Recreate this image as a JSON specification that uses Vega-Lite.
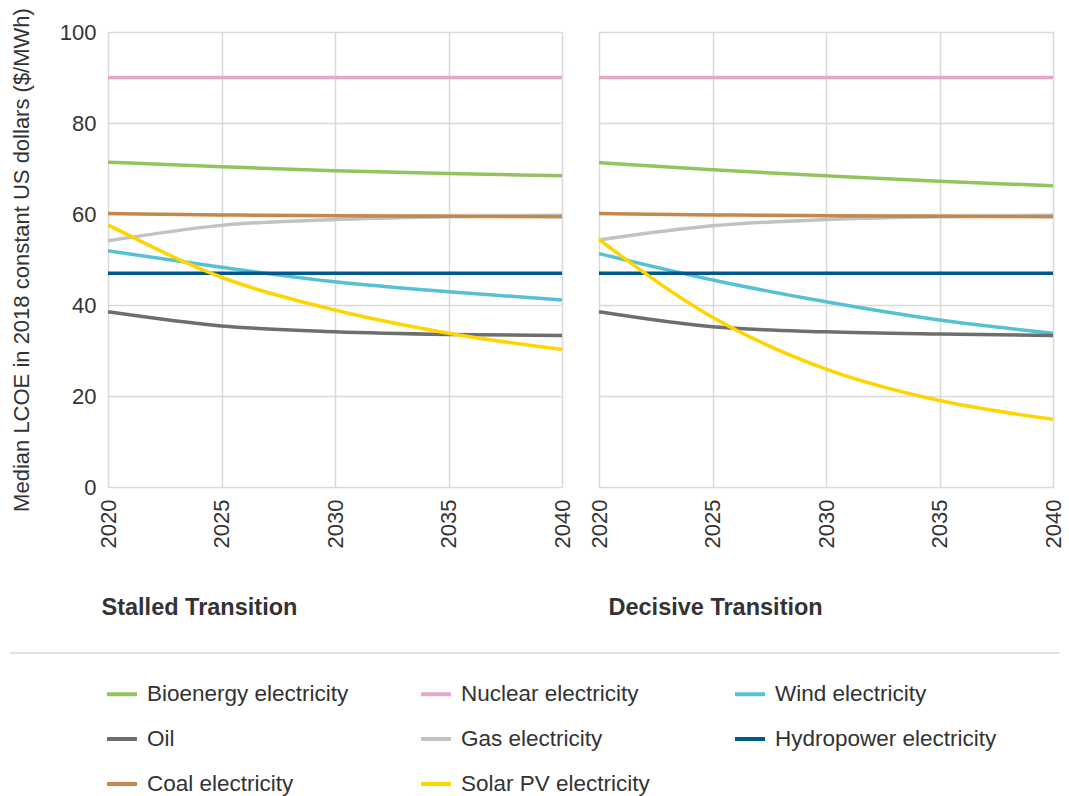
{
  "$schema": "https://vega.github.io/schema/vega-lite/v6.json",
  "background": "white",
  "padding": {"left": 7, "top": 7, "right": 10, "bottom": 5},
  "config": {
    "font": "Liberation Sans",
    "view": {"stroke": null},
    "axis": {
      "gridColor": "#d9d9d9",
      "gridWidth": 1.5,
      "domain": false,
      "ticks": false,
      "labelColor": "#333333",
      "labelFontSize": 22,
      "titleColor": "#333333",
      "titleFontSize": 22,
      "titleFontWeight": "normal"
    },
    "legend": {
      "padding": 0,
      "labelFont": "Liberation Sans",
      "labelFontSize": 22.5,
      "labelColor": "#333333"
    }
  },
  "datasets": {
    "lcoe": [
      {"scenario": "Stalled Transition", "source": "Bioenergy electricity", "year": 2020, "value": 71.4},
      {"scenario": "Stalled Transition", "source": "Bioenergy electricity", "year": 2025, "value": 70.4},
      {"scenario": "Stalled Transition", "source": "Bioenergy electricity", "year": 2030, "value": 69.5},
      {"scenario": "Stalled Transition", "source": "Bioenergy electricity", "year": 2035, "value": 68.9},
      {"scenario": "Stalled Transition", "source": "Bioenergy electricity", "year": 2040, "value": 68.4},
      {"scenario": "Stalled Transition", "source": "Nuclear electricity", "year": 2020, "value": 90},
      {"scenario": "Stalled Transition", "source": "Nuclear electricity", "year": 2025, "value": 90},
      {"scenario": "Stalled Transition", "source": "Nuclear electricity", "year": 2030, "value": 90},
      {"scenario": "Stalled Transition", "source": "Nuclear electricity", "year": 2035, "value": 90},
      {"scenario": "Stalled Transition", "source": "Nuclear electricity", "year": 2040, "value": 90},
      {"scenario": "Stalled Transition", "source": "Wind electricity", "year": 2020, "value": 51.9},
      {"scenario": "Stalled Transition", "source": "Wind electricity", "year": 2025, "value": 48.3},
      {"scenario": "Stalled Transition", "source": "Wind electricity", "year": 2030, "value": 45.1},
      {"scenario": "Stalled Transition", "source": "Wind electricity", "year": 2035, "value": 42.9},
      {"scenario": "Stalled Transition", "source": "Wind electricity", "year": 2040, "value": 41.1},
      {"scenario": "Stalled Transition", "source": "Oil", "year": 2020, "value": 38.5},
      {"scenario": "Stalled Transition", "source": "Oil", "year": 2025, "value": 35.4},
      {"scenario": "Stalled Transition", "source": "Oil", "year": 2030, "value": 34.1},
      {"scenario": "Stalled Transition", "source": "Oil", "year": 2035, "value": 33.5},
      {"scenario": "Stalled Transition", "source": "Oil", "year": 2040, "value": 33.3},
      {"scenario": "Stalled Transition", "source": "Gas electricity", "year": 2020, "value": 54.1},
      {"scenario": "Stalled Transition", "source": "Gas electricity", "year": 2025, "value": 57.5},
      {"scenario": "Stalled Transition", "source": "Gas electricity", "year": 2030, "value": 58.8},
      {"scenario": "Stalled Transition", "source": "Gas electricity", "year": 2035, "value": 59.4},
      {"scenario": "Stalled Transition", "source": "Gas electricity", "year": 2040, "value": 59.7},
      {"scenario": "Stalled Transition", "source": "Hydropower electricity", "year": 2020, "value": 47},
      {"scenario": "Stalled Transition", "source": "Hydropower electricity", "year": 2025, "value": 47},
      {"scenario": "Stalled Transition", "source": "Hydropower electricity", "year": 2030, "value": 47},
      {"scenario": "Stalled Transition", "source": "Hydropower electricity", "year": 2035, "value": 47},
      {"scenario": "Stalled Transition", "source": "Hydropower electricity", "year": 2040, "value": 47},
      {"scenario": "Stalled Transition", "source": "Coal electricity", "year": 2020, "value": 60.1},
      {"scenario": "Stalled Transition", "source": "Coal electricity", "year": 2025, "value": 59.8},
      {"scenario": "Stalled Transition", "source": "Coal electricity", "year": 2030, "value": 59.6},
      {"scenario": "Stalled Transition", "source": "Coal electricity", "year": 2035, "value": 59.5},
      {"scenario": "Stalled Transition", "source": "Coal electricity", "year": 2040, "value": 59.4},
      {"scenario": "Stalled Transition", "source": "Solar PV electricity", "year": 2020, "value": 57.6},
      {"scenario": "Stalled Transition", "source": "Solar PV electricity", "year": 2025, "value": 46.1},
      {"scenario": "Stalled Transition", "source": "Solar PV electricity", "year": 2030, "value": 38.9},
      {"scenario": "Stalled Transition", "source": "Solar PV electricity", "year": 2035, "value": 33.8},
      {"scenario": "Stalled Transition", "source": "Solar PV electricity", "year": 2040, "value": 30.2},
      {"scenario": "Decisive Transition", "source": "Bioenergy electricity", "year": 2020, "value": 71.3},
      {"scenario": "Decisive Transition", "source": "Bioenergy electricity", "year": 2025, "value": 69.7},
      {"scenario": "Decisive Transition", "source": "Bioenergy electricity", "year": 2030, "value": 68.4},
      {"scenario": "Decisive Transition", "source": "Bioenergy electricity", "year": 2035, "value": 67.2},
      {"scenario": "Decisive Transition", "source": "Bioenergy electricity", "year": 2040, "value": 66.2},
      {"scenario": "Decisive Transition", "source": "Nuclear electricity", "year": 2020, "value": 90},
      {"scenario": "Decisive Transition", "source": "Nuclear electricity", "year": 2025, "value": 90},
      {"scenario": "Decisive Transition", "source": "Nuclear electricity", "year": 2030, "value": 90},
      {"scenario": "Decisive Transition", "source": "Nuclear electricity", "year": 2035, "value": 90},
      {"scenario": "Decisive Transition", "source": "Nuclear electricity", "year": 2040, "value": 90},
      {"scenario": "Decisive Transition", "source": "Wind electricity", "year": 2020, "value": 51.3},
      {"scenario": "Decisive Transition", "source": "Wind electricity", "year": 2025, "value": 45.5},
      {"scenario": "Decisive Transition", "source": "Wind electricity", "year": 2030, "value": 40.7},
      {"scenario": "Decisive Transition", "source": "Wind electricity", "year": 2035, "value": 36.7},
      {"scenario": "Decisive Transition", "source": "Wind electricity", "year": 2040, "value": 33.8},
      {"scenario": "Decisive Transition", "source": "Oil", "year": 2020, "value": 38.5},
      {"scenario": "Decisive Transition", "source": "Oil", "year": 2025, "value": 35.2},
      {"scenario": "Decisive Transition", "source": "Oil", "year": 2030, "value": 34.1},
      {"scenario": "Decisive Transition", "source": "Oil", "year": 2035, "value": 33.6},
      {"scenario": "Decisive Transition", "source": "Oil", "year": 2040, "value": 33.3},
      {"scenario": "Decisive Transition", "source": "Gas electricity", "year": 2020, "value": 54.3},
      {"scenario": "Decisive Transition", "source": "Gas electricity", "year": 2025, "value": 57.4},
      {"scenario": "Decisive Transition", "source": "Gas electricity", "year": 2030, "value": 58.8},
      {"scenario": "Decisive Transition", "source": "Gas electricity", "year": 2035, "value": 59.4},
      {"scenario": "Decisive Transition", "source": "Gas electricity", "year": 2040, "value": 59.7},
      {"scenario": "Decisive Transition", "source": "Hydropower electricity", "year": 2020, "value": 47},
      {"scenario": "Decisive Transition", "source": "Hydropower electricity", "year": 2025, "value": 47},
      {"scenario": "Decisive Transition", "source": "Hydropower electricity", "year": 2030, "value": 47},
      {"scenario": "Decisive Transition", "source": "Hydropower electricity", "year": 2035, "value": 47},
      {"scenario": "Decisive Transition", "source": "Hydropower electricity", "year": 2040, "value": 47},
      {"scenario": "Decisive Transition", "source": "Coal electricity", "year": 2020, "value": 60.1},
      {"scenario": "Decisive Transition", "source": "Coal electricity", "year": 2025, "value": 59.8},
      {"scenario": "Decisive Transition", "source": "Coal electricity", "year": 2030, "value": 59.6},
      {"scenario": "Decisive Transition", "source": "Coal electricity", "year": 2035, "value": 59.5},
      {"scenario": "Decisive Transition", "source": "Coal electricity", "year": 2040, "value": 59.4},
      {"scenario": "Decisive Transition", "source": "Solar PV electricity", "year": 2020, "value": 54.4},
      {"scenario": "Decisive Transition", "source": "Solar PV electricity", "year": 2025, "value": 37.3},
      {"scenario": "Decisive Transition", "source": "Solar PV electricity", "year": 2030, "value": 25.9},
      {"scenario": "Decisive Transition", "source": "Solar PV electricity", "year": 2035, "value": 19.0},
      {"scenario": "Decisive Transition", "source": "Solar PV electricity", "year": 2040, "value": 14.9}
    ],
    "sep": [{"k": 1}]
  },
  "spacing": 33,
  "vconcat": [
    {
      "spacing": -10,
      "hconcat": [
        {
          "width": 1,
          "height": 455,
          "data": {"name": "lcoe"},
          "mark": {"type": "point", "opacity": 0},
          "encoding": {
            "y": {
              "field": "value", "type": "quantitative",
              "scale": {"domain": [0, 100], "nice": false},
              "axis": {
                "values": [0, 20, 40, 60, 80, 100], "grid": false, "offset": -97,
                "labelPadding": 11, "titlePadding": 26,
                "title": "Median LCOE in 2018 constant US dollars ($/MWh)"
              }
            }
          }
        },
        {
          "spacing": 15,
          "hconcat": [
            {
              "width": 454,
              "height": 455,
              "data": {"name": "lcoe"},
              "transform": [{"filter": "datum.scenario === 'Stalled Transition'"}],
              "mark": {"type": "line", "interpolate": "monotone", "strokeWidth": 3.5},
              "encoding": {
                "x": {
                  "field": "year", "type": "quantitative",
                  "scale": {"domain": [2020, 2040], "nice": false, "zero": false},
                  "axis": {
                    "values": [2020, 2025, 2030, 2035, 2040], "format": "d",
                    "labelAngle": -90, "labelAlign": "right", "labelBaseline": "middle", "labelPadding": 12,
                    "title": "Stalled Transition", "titleFontWeight": "bold", "titleFontSize": 23.5,
                    "titleAnchor": "start", "titleAlign": "left", "titleX": -7, "titleY": 127, "titleBaseline": "alphabetic"
                  }
                },
                "y": {
                  "field": "value", "type": "quantitative",
                  "scale": {"domain": [0, 100], "nice": false},
                  "axis": {"values": [0, 20, 40, 60, 80, 100], "labels": false, "title": null}
                },
                "color": {
                  "field": "source", "type": "nominal",
                  "scale": {
                    "domain": ["Bioenergy electricity", "Nuclear electricity", "Wind electricity", "Oil", "Gas electricity", "Hydropower electricity", "Coal electricity", "Solar PV electricity"],
                    "range": ["#92c45e", "#e6a7c9", "#57c1d4", "#6e6e6e", "#c2c2c2", "#00578a", "#c4884b", "#ffd500"]
                  },
                  "legend": {
                    "title": null, "orient": "none", "legendX": 95, "legendY": 645,
                    "direction": "horizontal", "columns": 3, "gridAlign": "all",
                    "symbolType": "stroke", "symbolStrokeWidth": 4, "symbolSize": 900,
                    "labelOffset": 8, "rowPadding": 16, "columnPadding": 44, "labelLimit": 400
                  }
                }
              }
            },
            {
              "width": 454,
              "height": 455,
              "data": {"name": "lcoe"},
              "transform": [{"filter": "datum.scenario === 'Decisive Transition'"}],
              "mark": {"type": "line", "interpolate": "monotone", "strokeWidth": 3.5},
              "encoding": {
                "x": {
                  "field": "year", "type": "quantitative",
                  "scale": {"domain": [2020, 2040], "nice": false, "zero": false},
                  "axis": {
                    "values": [2020, 2025, 2030, 2035, 2040], "format": "d",
                    "labelAngle": -90, "labelAlign": "right", "labelBaseline": "middle", "labelPadding": 12,
                    "title": "Decisive Transition", "titleFontWeight": "bold", "titleFontSize": 23.5,
                    "titleAnchor": "start", "titleAlign": "left", "titleX": 9, "titleY": 127, "titleBaseline": "alphabetic"
                  }
                },
                "y": {
                  "field": "value", "type": "quantitative",
                  "scale": {"domain": [0, 100], "nice": false},
                  "axis": {"values": [0, 20, 40, 60, 80, 100], "labels": false, "title": null}
                },
                "color": {
                  "field": "source", "type": "nominal",
                  "scale": {
                    "domain": ["Bioenergy electricity", "Nuclear electricity", "Wind electricity", "Oil", "Gas electricity", "Hydropower electricity", "Coal electricity", "Solar PV electricity"],
                    "range": ["#92c45e", "#e6a7c9", "#57c1d4", "#6e6e6e", "#c2c2c2", "#00578a", "#c4884b", "#ffd500"]
                  },
                  "legend": {
                    "title": null, "orient": "none", "legendX": 95, "legendY": 645,
                    "direction": "horizontal", "columns": 3, "gridAlign": "all",
                    "symbolType": "stroke", "symbolStrokeWidth": 4, "symbolSize": 900,
                    "labelOffset": 8, "rowPadding": 16, "columnPadding": 44, "labelLimit": 400
                  }
                }
              }
            }
          ]
        }
      ]
    },
    {
      "width": 1050,
      "height": 1,
      "data": {"name": "sep"},
      "mark": {"type": "rule", "color": "#d9d9d9", "strokeWidth": 1.5},
      "encoding": {
        "y": {"datum": 0, "type": "quantitative", "scale": {"domain": [0, 1]}, "axis": null}
      }
    }
  ]
}
